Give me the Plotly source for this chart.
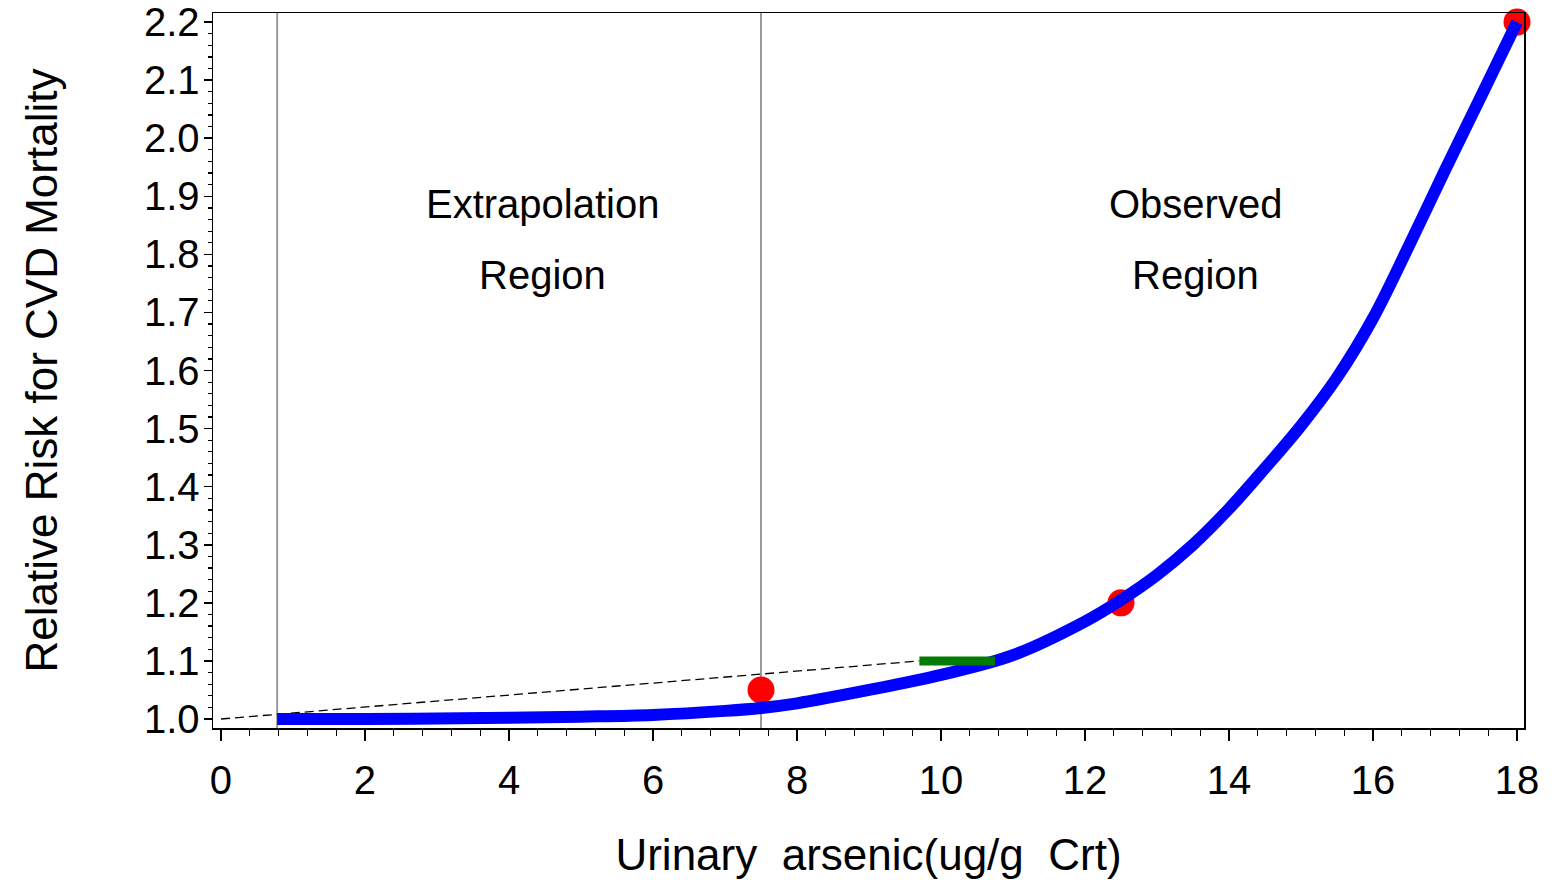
import plotly.graph_objects as go

# ---- data ----
curve_x = [0.78, 2, 3, 4, 5, 6, 7, 7.5, 8, 9, 10, 11, 12, 12.5, 13, 13.5, 14, 14.5,
           15, 15.5, 16, 16.5, 17, 17.5, 18]
curve_y = [1.000, 1.000, 1.001, 1.002, 1.004, 1.007, 1.014, 1.019, 1.027, 1.050,
           1.076, 1.110, 1.168, 1.205, 1.248, 1.300, 1.362, 1.432, 1.505, 1.588,
           1.690, 1.815, 1.945, 2.072, 2.200]

point_x = [7.5, 12.5, 18]
point_y = [1.05, 1.20, 2.20]

dash_x = [0, 9.7]
dash_y = [1.0, 1.1]

green_x = [9.7, 10.75]
green_y = [1.1, 1.1]

region_bounds = [0.78, 7.5]

label_lines = ["Extrapolation", "Region", "Observed", "Region"]
label_x = [4.47, 4.47, 13.54, 13.54]
label_y = [1.886, 1.764, 1.886, 1.764]

x_ticks = [0, 2, 4, 6, 8, 10, 12, 14, 16, 18]
y_ticks = [1.0, 1.1, 1.2, 1.3, 1.4, 1.5, 1.6, 1.7, 1.8, 1.9, 2.0, 2.1, 2.2]

FONT = "Liberation Sans, Arial, sans-serif"

fig = go.Figure()

# red points (behind the curve)
fig.add_trace(go.Scatter(
    x=point_x, y=point_y, mode="markers",
    marker=dict(color="#FF0000", size=27, line=dict(width=0)),
    cliponaxis=False, showlegend=False, hoverinfo="skip"))

# dashed linear extrapolation
fig.add_trace(go.Scatter(
    x=dash_x, y=dash_y, mode="lines",
    line=dict(color="black", width=1.3, dash="9px,5px"),
    showlegend=False, hoverinfo="skip"))

# blue fitted curve
fig.add_trace(go.Scatter(
    x=curve_x, y=curve_y, mode="lines",
    line=dict(color="#0000FF", width=12, shape="spline", smoothing=1.0),
    cliponaxis=False, showlegend=False, hoverinfo="skip"))

# green segment
fig.add_trace(go.Scatter(
    x=green_x, y=green_y, mode="lines",
    line=dict(color="#007A00", width=9),
    showlegend=False, hoverinfo="skip"))

# region boundary lines
for xb in region_bounds:
    fig.add_shape(type="line", x0=xb, x1=xb, xref="x", y0=0, y1=1, yref="paper",
                  line=dict(color="#9A9A9A", width=2), layer="below")

# region labels
for lab, lx, ly in zip(label_lines, label_x, label_y):
    fig.add_annotation(x=lx, y=ly, xref="x", yref="y", text=lab, showarrow=False,
                       font=dict(family=FONT, size=40, color="black"),
                       align="center")

fig.update_layout(
    width=1556, height=880,
    margin=dict(l=213, r=32, t=13, b=152, autoexpand=False),
    paper_bgcolor="white", plot_bgcolor="white",
    font=dict(family=FONT, color="black"),
    xaxis=dict(
        range=[-0.111, 18.097], tickmode="array", tickvals=x_ticks,
        ticktext=[str(v) for v in x_ticks],
        ticks="outside", ticklen=11, tickwidth=1.5, tickcolor="black",
        minor=dict(dtick=0.4, tick0=0, ticks="outside", ticklen=6, tickwidth=1.2,
                   tickcolor="black", showgrid=False),
        showgrid=False, zeroline=False, automargin=False,
        showline=True, linecolor="black", linewidth=1.5, mirror=True,
        tickfont=dict(family=FONT, size=40, color="black"),
        ticklabelstandoff=5, ticklabeloverflow="allow",
        title=dict(text="Urinary  arsenic(ug/g  Crt)",
                   font=dict(family=FONT, size=44, color="black"),
                   standoff=38),
    ),
    yaxis=dict(
        range=[0.9845, 2.2156], tickmode="array", tickvals=y_ticks,
        ticktext=[f"{v:.1f}" for v in y_ticks],
        ticks="outside", ticklen=8, tickwidth=1.5, tickcolor="black",
        minor=dict(dtick=0.02, tick0=1.0, ticks="outside", ticklen=4, tickwidth=1.2,
                   tickcolor="black", showgrid=False),
        showgrid=False, zeroline=False, automargin=False,
        showline=True, linecolor="black", linewidth=1.5, mirror=True,
        tickfont=dict(family=FONT, size=40, color="black"),
        ticklabelstandoff=-4, ticklabeloverflow="allow",
        title=dict(text="Relative Risk for CVD Mortality",
                   font=dict(family=FONT, size=44, color="black"),
                   standoff=72),
    ),
)

fig.write_html("out.html",
               config={"displayModeBar": False, "staticPlot": True},
               post_script="document.body.style.margin='0px';document.body.style.overflow='hidden';")
